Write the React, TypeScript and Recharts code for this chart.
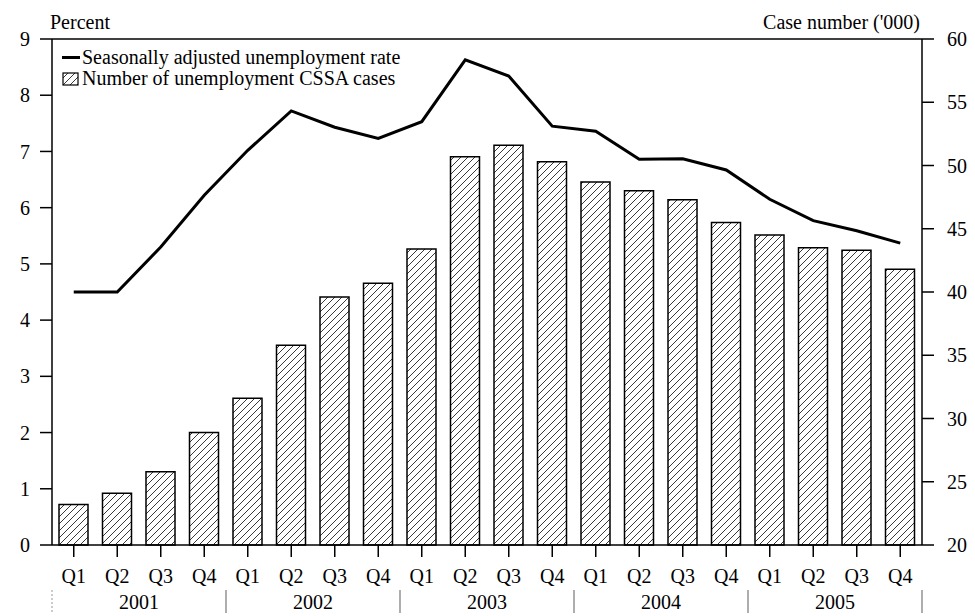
import React from 'react';
import { ComposedChart, Bar, Line, XAxis, YAxis, ReferenceLine } from 'recharts';

const quarters = ['Q1', 'Q2', 'Q3', 'Q4', 'Q1', 'Q2', 'Q3', 'Q4', 'Q1', 'Q2', 'Q3', 'Q4', 'Q1', 'Q2', 'Q3', 'Q4', 'Q1', 'Q2', 'Q3', 'Q4'];
const years = ['2001', '2002', '2003', '2004', '2005'];
const unemploymentRate = [4.5, 4.5, 5.3, 6.22, 7.02, 7.72, 7.43, 7.23, 7.53, 8.63, 8.34, 7.45, 7.36, 6.86, 6.87, 6.67, 6.15, 5.77, 5.59, 5.37];
const cssaCases = [23.2, 24.1, 25.8, 28.9, 31.6, 35.8, 39.6, 40.7, 43.4, 50.7, 51.6, 50.3, 48.7, 48.0, 47.3, 45.5, 44.5, 43.5, 43.3, 41.8];
const leftTicks = [0, 1, 2, 3, 4, 5, 6, 7, 8, 9];
const rightTicks = [20, 25, 30, 35, 40, 45, 50, 55, 60];

const data = quarters.map((q, i) => ({
  q,
  rate: unemploymentRate[i],
  cases: cssaCases[i],
}));

const FONT = "'Liberation Serif', 'Times New Roman', Times, serif";
const W = 959;
const H = 606;
const PLOT_W = 870;
const BAND = PLOT_W / quarters.length;

const XTick = (props: any) => {
  const { x, y, payload } = props;
  const i = payload.index;
  return (
    <g>
      <text x={x} y={y} dy={26} textAnchor="middle" fontSize={20} fontFamily={FONT} fill="#000">
        {quarters[i]}
      </text>
      {i % 4 === 1 && (
        <text x={x + BAND / 2} y={y} dy={52} textAnchor="middle" fontSize={20} fontFamily={FONT} fill="#000">
          {years[Math.floor(i / 4)]}
        </text>
      )}
      {i % 4 === 0 && (
        <line
          x1={x - BAND / 2}
          x2={x - BAND / 2}
          y1={y + 33}
          y2={y + 56}
          stroke={i === 0 ? '#aaa' : '#777'}
          strokeWidth={1.2}
          strokeDasharray={i === 0 ? '2 2' : undefined}
        />
      )}
      {i === quarters.length - 1 && (
        <line x1={x + BAND / 2} x2={x + BAND / 2} y1={y + 33} y2={y + 56} stroke="#777" strokeWidth={1.2} />
      )}
    </g>
  );
};

const LegendContent = () => (
  <div style={{ fontFamily: FONT, fontSize: 20, color: '#000', lineHeight: '21px' }}>
    <div style={{ display: 'flex', alignItems: 'center' }}>
      <span style={{ display: 'inline-block', width: 18, height: 3, background: '#000', marginRight: 2 }} />
      <span>Seasonally adjusted unemployment rate</span>
    </div>
    <div style={{ display: 'flex', alignItems: 'center' }}>
      <svg width={18} height={14} style={{ marginRight: 2 }}>
        <rect x={1} y={1} width={15} height={12} fill="url(#hatch)" stroke="#000" strokeWidth={1.2} />
      </svg>
      <span>Number of unemployment CSSA cases</span>
    </div>
  </div>
);

export default function App() {
  return (
    <div style={{ position: 'relative', width: W, height: H, background: '#fff' }}>
      <svg width={0} height={0} style={{ position: 'absolute' }}>
        <defs>
          <pattern id="hatch" patternUnits="userSpaceOnUse" width={7} height={7}>
            <path d="M-1,1 l2,-2 M0,7 l7,-7 M6,8 l2,-2" stroke="#222" strokeWidth={0.9} />
          </pattern>
        </defs>
      </svg>
      <ComposedChart width={W} height={H} data={data} margin={{ top: 31, right: 0, bottom: 0, left: 0 }}>
        <XAxis
          dataKey="q"
          interval={0}
          height={69}
          tick={<XTick />}
          tickSize={12}
          tickMargin={0}
          axisLine={{ stroke: '#000', strokeWidth: 1.5 }}
          tickLine={{ stroke: '#000', strokeWidth: 1.5 }}
        />
        <YAxis
          yAxisId="left"
          orientation="left"
          width={44}
          domain={[0, 9]}
          ticks={leftTicks}
          interval={0}
          tickSize={12}
          tickMargin={10}
          tick={{ fontSize: 20, fontFamily: FONT, fill: '#000' }}
          axisLine={{ stroke: '#000', strokeWidth: 1.5 }}
          tickLine={{ stroke: '#000', strokeWidth: 1.5 }}
        />
        <YAxis
          yAxisId="right"
          orientation="right"
          width={45}
          domain={[20, 60]}
          ticks={rightTicks}
          interval={0}
          tickSize={12}
          tickMargin={13}
          tick={{ fontSize: 20, fontFamily: FONT, fill: '#000', textAnchor: 'start' }}
          axisLine={{ stroke: '#000', strokeWidth: 1.5 }}
          tickLine={{ stroke: '#000', strokeWidth: 1.5 }}
        />
        <ReferenceLine yAxisId="left" y={9} stroke="#000" strokeWidth={1.5} />
        <Bar
          yAxisId="right"
          dataKey="cases"
          barSize={29}
          fill="url(#hatch)"
          stroke="#000"
          strokeWidth={1.5}
          isAnimationActive={false}
        />
        <Line
          yAxisId="left"
          dataKey="rate"
          type="linear"
          stroke="#000"
          strokeWidth={3}
          dot={false}
          activeDot={false}
          isAnimationActive={false}
        />
      </ComposedChart>
      <div style={{ position: 'absolute', left: 42, top: 3, fontFamily: FONT, fontSize: 20, color: '#000' }}>Percent</div>
      <div style={{ position: 'absolute', right: 47, top: 3, fontFamily: FONT, fontSize: 20, color: '#000', whiteSpace: 'nowrap' }}>
        Case number ('000)
      </div>
      <div style={{ position: 'absolute', left: 54, top: 39 }}>
        <LegendContent />
      </div>
    </div>
  );
}
